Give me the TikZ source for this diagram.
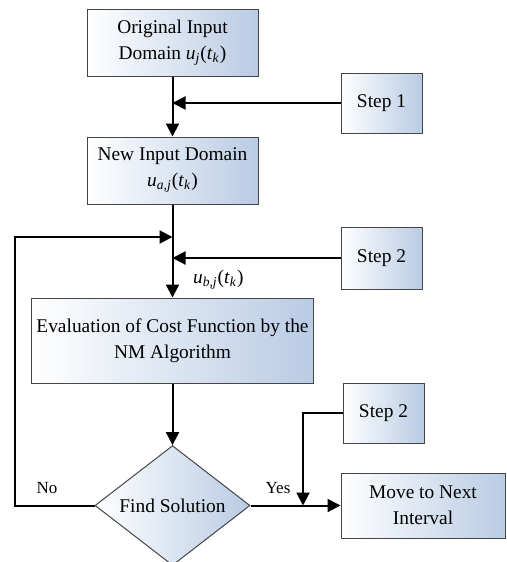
\documentclass[tikz,border=0pt]{standalone}
\usepackage{fontspec}
\setmainfont{Liberation Serif}
\usetikzlibrary{shapes.geometric,arrows.meta}
\definecolor{boxblue}{RGB}{185,203,228}
\definecolor{boxedge}{RGB}{70,70,70}
\newcommand{\uvar}[1]{\textit{u}\textsubscript{\textit{#1}}(\textit{t}\textsubscript{\textit{k}})}
\begin{document}
\begin{tikzpicture}[x=0.5pt,y=-0.5pt,
  every node/.style={font=\fontsize{9.7pt}{13pt}\selectfont},
  blk/.style={draw=boxedge, line width=0.5pt, left color=white, right color=boxblue,
    align=center, inner sep=1pt},
  dec/.style={diamond, draw=boxedge, line width=0.5pt, left color=white, right color=boxblue,
    inner sep=0pt, minimum width=77.5pt, minimum height=57pt},
  arr/.style={line width=1pt, -{Triangle[length=6.5pt,width=6.5pt]}},
  ln/.style={line width=1pt},
  lbl/.style={font=\fontsize{8.5pt}{10pt}\selectfont}]
\useasboundingbox (0,0) rectangle (507,562);
\node[blk, minimum width=85.5pt, minimum height=33.5pt] (b1) at (172.5,42.5) {Original Input\\Domain \uvar{j}};
\node[blk, minimum width=40.5pt, minimum height=30pt] (s1) at (381.5,103) {Step 1};
\node[blk, minimum width=85.5pt, minimum height=33.5pt] (b2) at (172.5,170.5) {New Input Domain\\\uvar{a,j}};
\node[blk, minimum width=40.5pt, minimum height=31pt] (s2) at (381.5,258) {Step 2};
\node[blk, minimum width=141pt, minimum height=42.5pt] (ev) at (172.5,340.5) {Evaluation of Cost Function by the\\NM Algorithm};
\node[dec] (dia) at (172.5,505.5) {Find Solution};
\node[blk, minimum width=40.5pt, minimum height=30pt] (s3) at (383.5,413) {Step 2};
\node[blk, minimum width=82pt, minimum height=32.5pt] (mv) at (423,505.5) {Move to Next\\Interval};
\node[anchor=west] (ub) at (186,280) {\uvar{b,j}};
\node[lbl] (no) at (47,488) {No};
\node[lbl] (yes) at (278,488) {Yes};
\coordinate (fb) at (15,237);
\coordinate (jn) at (303,505.5);
\draw[arr] (b1.south) -- (b2.north);
\draw[arr] (s1.west) -- (s1.west -| b1.south);
\draw[arr] (b2.south) -- (ev.north);
\draw[arr] (s2.west) -- (s2.west -| b2.south);
\draw[arr] (dia.west) -| (fb) -- (fb -| b2.south);
\draw[arr] (ev.south) -- (dia.north);
\draw[arr] (dia.east) -- (mv.west);
\draw[arr] (s3.west) -| (jn);
\end{tikzpicture}
\end{document}
